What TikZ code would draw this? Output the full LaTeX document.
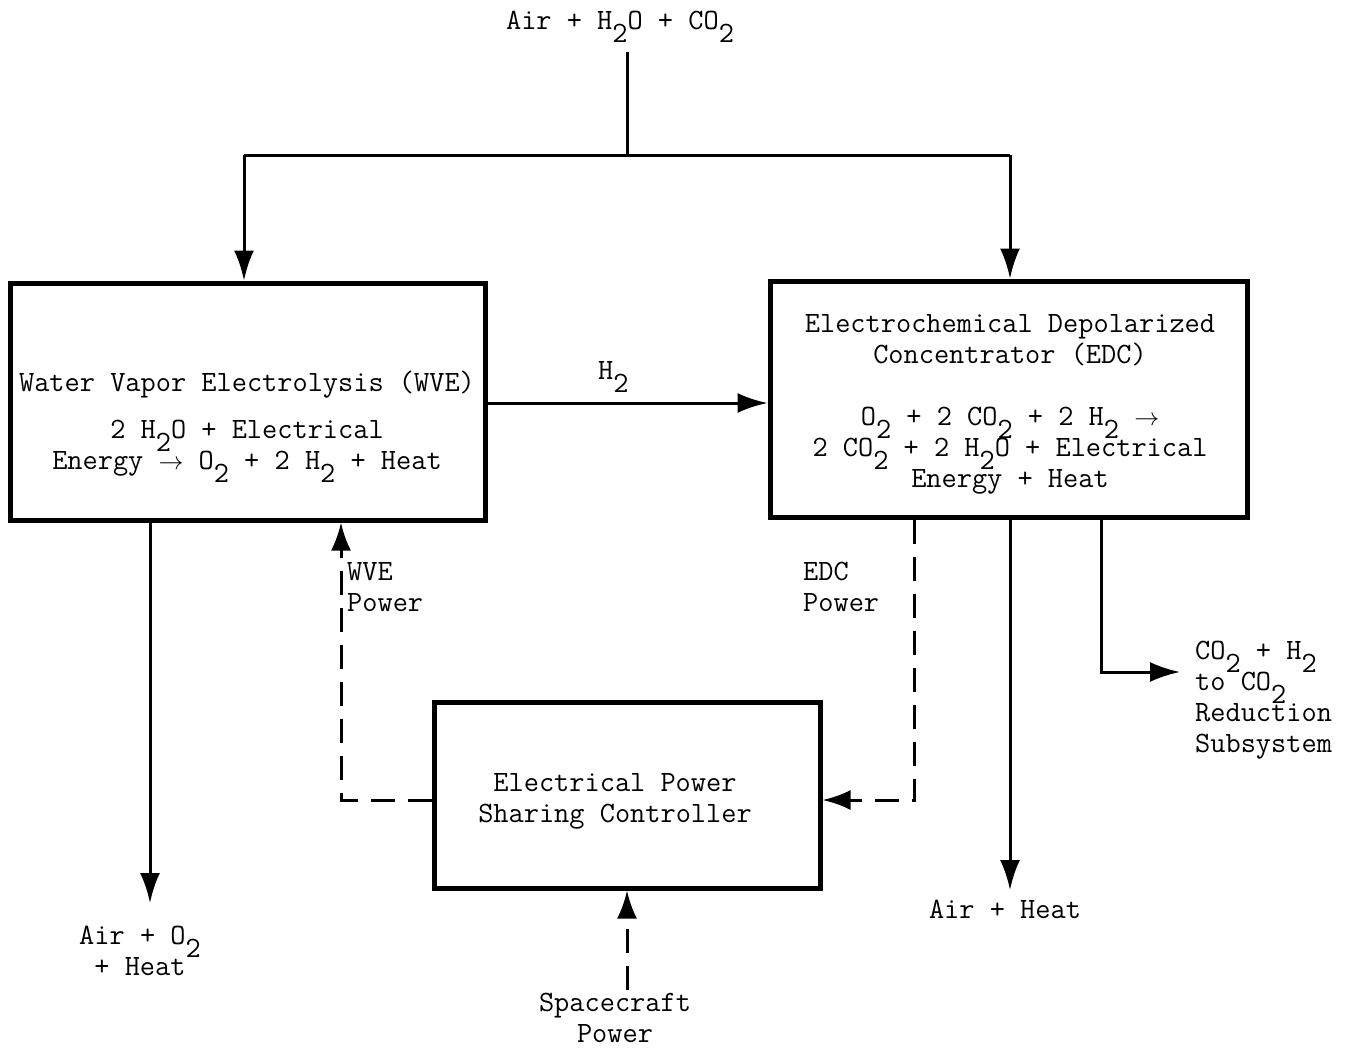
\documentclass[tikz,border=0pt]{standalone}
\usepackage{fontspec}
\usetikzlibrary{arrows.meta}
\newcommand\sbs[1]{\smash{\raisebox{-0.45em}{#1}}}
\begin{document}
\begin{tikzpicture}[x=1pt,y=-1pt,
  box/.style={draw,line width=5pt,inner sep=0pt},
  txt/.style={font=\ttfamily\fontsize{29.5}{31}\selectfont,align=center,inner sep=0pt},
  txtl/.style={font=\ttfamily\fontsize{29.5}{31}\selectfont,align=left,inner sep=0pt},
  plain/.style={line width=3pt},
  flow/.style={line width=3pt,-{Latex[length=30pt,width=20pt]}},
  pow/.style={line width=3pt,dash pattern=on 24pt off 13pt,-{Latex[length=28pt,width=20pt]}}]
\useasboundingbox (0,0) rectangle (1349,1050);
\fill[white] (0,0) rectangle (1349,1050);

% boxes
\node[box,minimum width=475pt,minimum height=237pt] (wve) at (247.5,401.5) {};
\node[box,minimum width=477pt,minimum height=236pt] (edc) at (1008.5,399) {};
\node[box,minimum width=386pt,minimum height=186pt] (epsc) at (627,795) {};

% box texts
\node[txt,anchor=north] (wvet) at (247,371) {Water Vapor Electrolysis (WVE)\\[16pt]2 H\sbs{2}O + Electrical\\Energy $\rightarrow$ O\sbs{2} + 2 H\sbs{2} + Heat};
\node[txt,anchor=north] (edct) at (1010,314) {Electrochemical Depolarized\\Concentrator (EDC)\\[31pt]O\sbs{2} + 2 CO\sbs{2} + 2 H\sbs{2} $\rightarrow$\\2 CO\sbs{2} + 2 H\sbs{2}O + Electrical\\Energy + Heat};
\node[txt,anchor=north] (epsct) at (615,773) {Electrical Power\\Sharing Controller};

% outside labels
\node[txt,anchor=north] (air) at (620,11) {Air + H\sbs{2}O + CO\sbs{2}};
\node[txtl,anchor=north west] (h2) at (598,361) {H\sbs{2}};
\node[txt,anchor=north] (airo) at (140,926) {Air + O\sbs{2}\\+ Heat};
\node[txt,anchor=north] (airh) at (1005,900) {Air + Heat};
\node[txtl,anchor=north west] (co2) at (1195,641) {CO\sbs{2} + H\sbs{2}\\to CO\sbs{2}\\Reduction\\Subsystem};
\node[txtl,anchor=north west] (wvep) at (347,562) {WVE\\Power};
\node[txtl,anchor=north west] (edcp) at (803,562) {EDC\\Power};
\node[txt,anchor=north] (scp) at (615,993) {Spacecraft\\Power};

% coordinates
\coordinate (topin) at (627,52);
\coordinate (split) at (627,155);
\coordinate (tl) at (244,155);
\coordinate (tr) at (1010,155);
\coordinate (h2y) at (0,403);
\coordinate (c1) at (150,903);
\coordinate (c2) at (1010,890);
\coordinate (c3) at (1101,672);
\coordinate (c4) at (1180,672);
\coordinate (wp) at (341,800);
\coordinate (ep) at (914,800);
\coordinate (sp) at (627,990);

% connectors
\draw[plain] (topin) -- (split);
\draw[plain] (tl) -- (tr);
\draw[flow] (tl) -- (tl |- wve.north);
\draw[flow] (tr) -- (tr |- edc.north);
\draw[flow] (wve.east |- h2y) -- (edc.west |- h2y);
\draw[flow] (c1 |- wve.south) -- (c1);
\draw[flow] (c2 |- edc.south) -- (c2);
\draw[flow] (c3 |- edc.south) -- (c3) -- (c4);
\draw[pow] (epsc.west |- wp) -- (wp) -- (wp |- wve.south);
\draw[pow] (ep |- edc.south) -- (ep) -- (epsc.east |- ep);
\draw[pow] (sp) -- (sp |- epsc.south);
\end{tikzpicture}
\end{document}
